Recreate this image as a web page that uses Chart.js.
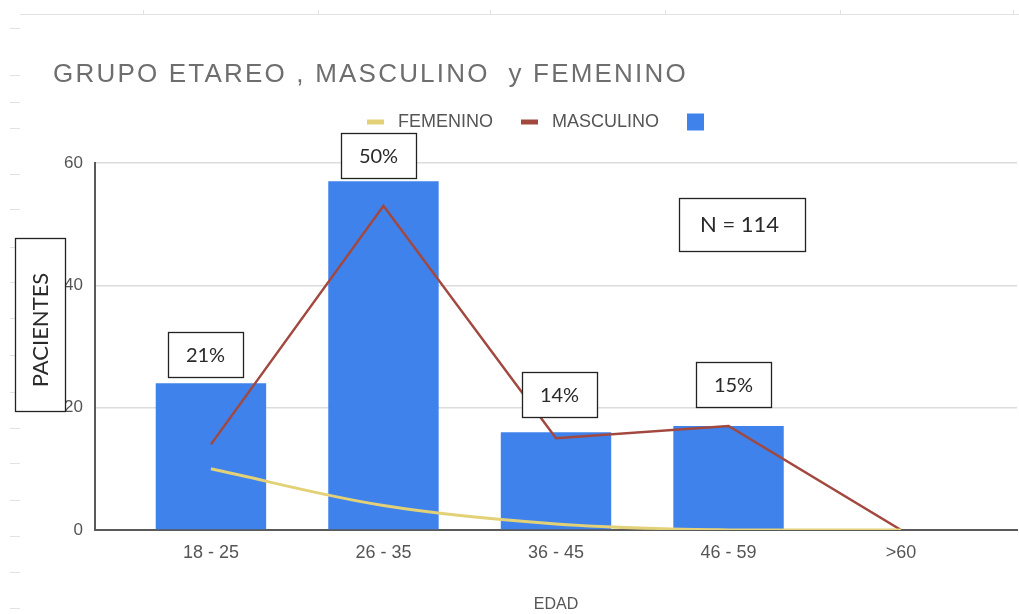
<!DOCTYPE html>
<html>
<head>
<meta charset="utf-8">
<script src="https://cdn.jsdelivr.net/npm/chart.js@4.4.0/dist/chart.umd.min.js"></script>
<style>
    html, body { margin: 0; padding: 0; background: #fff; }
    #wrap { width: 1019px; height: 614px; }
</style>
</head>
<body>
<div id="wrap"><canvas id="myChart" width="1019" height="614"></canvas></div>
<script>
const categories = ["18 - 25", "26 - 35", "36 - 45", "46 - 59", ">60"];
const totalValues = [24, 57, 16, 17, 0];
const masculinoValues = [14, 53, 15, 17, 0];
const femeninoValues = [10, 4, 1, 0, 0];
const yTicks = [0, 20, 40, 60];

const chartTitle = "GRUPO ETAREO , MASCULINO  y FEMENINO";
const xTitle = "EDAD";
const yTitle = "PACIENTES";

// where each % box sits relative to its bar (dx from bar centre, gap above bar top)
const pctBoxOffsets = [
    {dx: -5, gap: 6},
    {dx: -5, gap: 3},
    {dx: 3, gap: 15},
    {dx: 5, gap: 19},
];

const BLUE = "#3f82ec";
const RED = "#a2483f";
const YELLOW = "#e2d176";

const toPoints = (values) => values.map((v, i) => ({x: i, y: v}));

// faint spreadsheet cell marks behind the chart
const sheetMarks = {
    id: "sheetMarks",
    beforeDraw(chart) {
        const ctx = chart.ctx;
        ctx.save();
        ctx.strokeStyle = "#e2e2e2";
        ctx.lineWidth = 1;
        ctx.beginPath();
        ctx.moveTo(20, 14.5);
        ctx.lineTo(1019, 14.5);
        [143, 318, 490, 665, 840, 1013].forEach(x => {
            ctx.moveTo(x + 0.5, 10);
            ctx.lineTo(x + 0.5, 14);
        });
        [28, 75, 102, 128, 174, 209, 247, 282, 318, 355, 392, 428, 463, 500, 536, 572, 608].forEach(y => {
            ctx.moveTo(10, y + 0.5);
            ctx.lineTo(20, y + 0.5);
        });
        ctx.stroke();
        ctx.restore();
    }
};

// nudge legend to the right like the original
const legendShift = {
    id: "legendShift",
    afterLayout(chart) {
        if (chart.legend) {
            chart.legend.left = 63;
        }
    }
};

const boxedText = (ctx, x, y, w, h, font, align) => {
    ctx.fillStyle = "#fff";
    ctx.fillRect(x, y, w, h);
    ctx.strokeStyle = "#222";
    ctx.lineWidth = 1.3;
    ctx.strokeRect(x + 0.5, y + 0.5, w, h);
    ctx.fillStyle = "#2a2a2a";
    ctx.font = font;
    ctx.textBaseline = "middle";
    ctx.textAlign = align || "center";
};

const annotations = {
    id: "annotations",
    afterDraw(chart) {
        const ctx = chart.ctx;
        const area = chart.chartArea;
        const total = totalValues.reduce((a, b) => a + b, 0);
        ctx.save();

        // title
        ctx.font = '26px "Liberation Sans", Arial, sans-serif';
        ctx.letterSpacing = "2.2px";
        ctx.fillStyle = "#6e6e6e";
        ctx.textAlign = "left";
        ctx.textBaseline = "alphabetic";
        ctx.fillText(chartTitle, 53, 82);
        ctx.letterSpacing = "0px";

        // percentage boxes above bars
        const meta = chart.getDatasetMeta(2);
        meta.data.forEach((bar, i) => {
            if (!totalValues[i]) return;
            const off = pctBoxOffsets[i] || {dx: 0, gap: 8};
            const w = 75, h = 45;
            const bx = Math.round(bar.x + off.dx - w / 2);
            const by = Math.round(bar.y - off.gap - h);
            boxedText(ctx, bx, by, w, h, '20px Lato, "Liberation Sans", sans-serif');
            ctx.fillText(Math.round(totalValues[i] / total * 100) + "%", bx + w / 2, by + h / 2 + 1);
        });

        // N box
        const nx = area.right - 338, ny = area.top + 35;
        boxedText(ctx, nx, ny, 126, 53, '22px Lato, "Liberation Sans", sans-serif', "left");
        ctx.fillText("N = " + total, nx + 21, ny + 27);

        // y title box
        boxedText(ctx, 15, 238, 50, 173, '22px Lato, "Liberation Sans", sans-serif');
        ctx.translate(40, 330);
        ctx.rotate(-Math.PI / 2);
        ctx.fillText(yTitle, 0, 1);

        ctx.restore();
    }
};

Chart.register(sheetMarks, legendShift, annotations);

const ctx = document.getElementById("myChart").getContext("2d");
const myChart = new Chart(ctx, {
    data: {
        datasets: [
            {
                type: "line",
                label: "FEMENINO",
                data: toPoints(femeninoValues),
                borderColor: YELLOW,
                backgroundColor: YELLOW,
                borderWidth: 3,
                tension: 0.35,
                pointRadius: 0,
            },
            {
                type: "line",
                label: "MASCULINO",
                data: toPoints(masculinoValues),
                borderColor: RED,
                backgroundColor: RED,
                borderWidth: 2.5,
                tension: 0,
                pointRadius: 0,
            },
            {
                type: "bar",
                label: "",
                data: toPoints(totalValues),
                backgroundColor: BLUE,
                categoryPercentage: 0.8,
                barPercentage: 0.8,
            },
        ]
    },
    options: {
        responsive: false,
        animation: false,
        devicePixelRatio: 1,
        layout: {
            padding: {top: 85, left: 0, right: 2, bottom: 0}
        },
        plugins: {
            title: {display: false},
            subtitle: {
                display: true,
                text: "",
                weight: 500,
                font: {size: 10, lineHeight: 1},
                padding: {top: 12, bottom: 0},
            },
            legend: {
                display: true,
                position: "top",
                align: "center",
                labels: {
                    usePointStyle: true,
                    pointStyleWidth: 17,
                    boxHeight: 17,
                    padding: 28,
                    color: "#555",
                    font: {size: 18, family: '"Liberation Sans", Arial, sans-serif'},
                    generateLabels(chart) {
                        const items = Chart.defaults.plugins.legend.labels.generateLabels(chart);
                        return items.map(item => {
                            const ds = chart.data.datasets[item.datasetIndex];
                            if (ds.type === "line") {
                                item.pointStyle = "line";
                                item.lineWidth = 5;
                                item.strokeStyle = ds.borderColor;
                                item.text = " " + item.text;
                            } else {
                                item.pointStyle = "rect";
                                item.lineWidth = 0;
                                item.fillStyle = ds.backgroundColor;
                            }
                            return item;
                        });
                    }
                }
            },
            tooltip: {enabled: false},
        },
        scales: {
            x: {
                type: "linear",
                offset: false,
                min: -0.672,
                max: categories.length - 1 + 0.672,
                afterBuildTicks: (scale) => {
                    scale.ticks = categories.map((c, i) => ({value: i}));
                },
                afterFit: (scale) => {
                    scale.height = 84;
                },
                grid: {display: false, drawTicks: false},
                border: {display: true, color: "#5a5a5a", width: 2},
                ticks: {
                    autoSkip: false,
                    maxRotation: 0,
                    padding: 12,
                    color: "#555",
                    font: {size: 18, family: '"Liberation Sans", Arial, sans-serif'},
                    callback: (value) => categories[value],
                },
                title: {
                    display: true,
                    text: xTitle,
                    color: "#555",
                    padding: 0,
                    font: {size: 16, family: '"Liberation Sans", Arial, sans-serif'},
                },
            },
            y: {
                min: 0,
                max: 60,
                afterBuildTicks: (scale) => {
                    scale.ticks = yTicks.map(v => ({value: v}));
                },
                afterFit: (scale) => {
                    scale.width = 95;
                },
                grid: {color: "#dcdcdc", lineWidth: 1.5, drawTicks: false},
                border: {display: true, color: "#5a5a5a", width: 2},
                ticks: {
                    padding: 12,
                    color: "#555",
                    font: {size: 17, family: '"Liberation Sans", Arial, sans-serif'},
                },
            },
        },
    }
});
</script>
</body>
</html>
